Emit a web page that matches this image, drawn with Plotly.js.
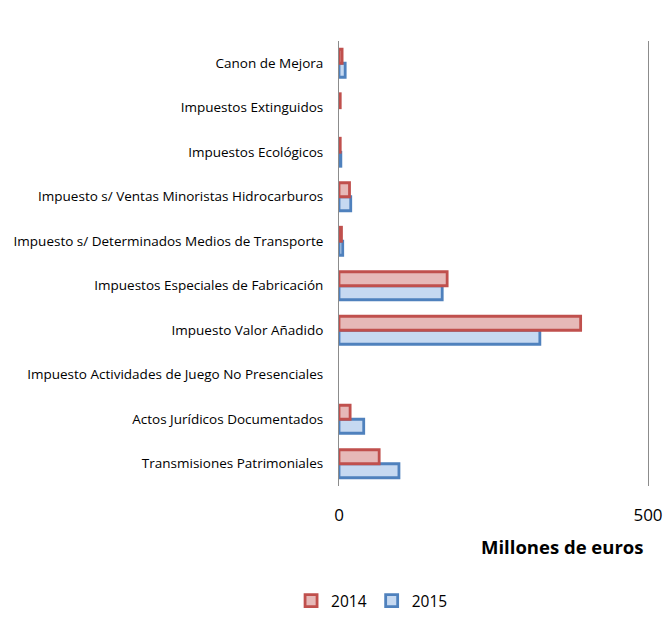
<!DOCTYPE html>
<html><head><meta charset="utf-8">
<script src="https://cdn.plot.ly/plotly-3.0.1.min.js"></script>
<style>html,body{margin:0;padding:0;background:#fff}#chart{width:671px;height:618px}</style>
</head><body><div id="chart"></div>
<script>
const categories = [
  "Transmisiones Patrimoniales",
  "Actos Jurídicos Documentados",
  "Impuesto Actividades de Juego No Presenciales",
  "Impuesto Valor Añadido",
  "Impuestos Especiales de Fabricación",
  "Impuesto s/ Determinados Medios de Transporte",
  "Impuesto s/ Ventas Minoristas Hidrocarburos",
  "Impuestos Ecológicos",
  "Impuestos Extinguidos",
  "Canon de Mejora"
];
const values2014 = [65, 18, 0, 391, 175, 4, 17, 2, 2, 5];
const values2015 = [97, 40, 0, 325, 167, 6, 19, 3, 0, 10];
const seriesNames = ["2014", "2015"];
const xTicks = [0, 500];

const font = "'Open Sans', Lato, sans-serif";
const lw = v => v.map(d => d === 0 ? 0 : 2.8);
const traces = [
  {type:'bar', orientation:'h', name:seriesNames[1], y:categories, x:values2015,
   marker:{color:'#C6D9F1', line:{color:'#4F81BD', width:lw(values2015)}}, legendrank:2, hoverinfo:'x+y'},
  {type:'bar', orientation:'h', name:seriesNames[0], y:categories, x:values2014,
   marker:{color:'#E6B9B8', line:{color:'#C0504D', width:lw(values2014)}}, legendrank:1, hoverinfo:'x+y'}
];
const layout = {
  width:671, height:618,
  margin:{l:339, r:23, t:41, b:132},
  paper_bgcolor:'#fff', plot_bgcolor:'#fff',
  barmode:'group', bargap:0.37, bargroupgap:0,
  font:{family:font, color:'#000'},
  xaxis:{range:[0,500], tickvals:xTicks, ticktext:xTicks.map(String), showgrid:false, zeroline:false,
         showline:false, ticks:'outside', ticklen:14, tickcolor:'rgba(0,0,0,0)', tickfont:{size:17, family:font}, fixedrange:true},
  yaxis:{type:'category', categoryorder:'array', categoryarray:categories, showgrid:false, zeroline:false,
         showline:true, mirror:true, linecolor:'#8C8C8C', linewidth:1,
         ticks:'outside', ticklen:12, tickcolor:'rgba(0,0,0,0)', tickfont:{size:13.5, family:font}, fixedrange:true},
  showlegend:true,
  legend:{orientation:'h', x:0.107, xanchor:'center', y:0.0, yref:'container', yanchor:'bottom',
          font:{size:15.5, family:font}, itemwidth:30, tracegroupgap:0},
  annotations:[{text:'<b>Millones de euros</b>', xref:'paper', yref:'paper', x:0.993, xanchor:'right', y:-0.137, yanchor:'middle',
                showarrow:false, font:{size:18.5, family:font}}]
};
Plotly.newPlot('chart', traces, layout, {displayModeBar:false, staticPlot:true});
</script></body></html>
